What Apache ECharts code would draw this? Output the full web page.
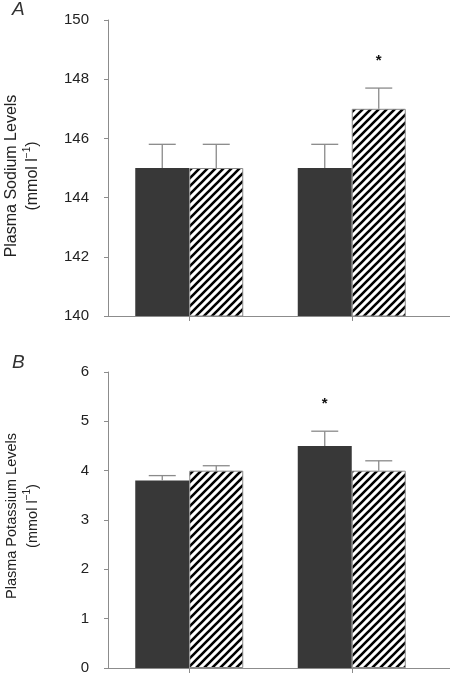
<!DOCTYPE html>
<html>
<head>
<meta charset="utf-8">
<script src="https://cdn.jsdelivr.net/npm/echarts@6/dist/echarts.min.js"></script>
<style>html,body{margin:0;padding:0;background:#fff;}#c{width:450px;height:676px;}</style>
</head>
<body>
<div id="c"></div>
<script>
// ---- data ----
const categories = ['1', '2'];
const sodiumTicks = [140, 142, 144, 146, 148, 150];
const potassiumTicks = [0, 1, 2, 3, 4, 5, 6];
const sodiumDark = [145, 145];
const sodiumDarkErr = [0.8, 0.8];
const sodiumHatch = [145, 147];
const sodiumHatchErr = [0.8, 0.7];
const sodiumDarkSig = [false, false];
const sodiumHatchSig = [false, true];
const potassiumDark = [3.8, 4.5];
const potassiumDarkErr = [0.1, 0.3];
const potassiumHatch = [4.0, 4.0];
const potassiumHatchErr = [0.1, 0.2];
const potassiumDarkSig = [false, true];
const potassiumHatchSig = [false, false];

// ---- styling ----
const FONT = 'Arial, "Liberation Sans", sans-serif';
const BAR_W = 54;
const DARK = '#383838';
const AXIS_C = '#8c8c8c';
const ERR_C = '#8a8a8a';

function hatchPattern() {
  const s = 8;
  const cv = document.createElement('canvas');
  cv.width = s; cv.height = s;
  const g = cv.getContext('2d');
  g.fillStyle = '#fff'; g.fillRect(0, 0, s, s);
  g.strokeStyle = '#000'; g.lineWidth = 2.6; g.lineCap = 'square';
  g.beginPath();
  g.moveTo(0, s); g.lineTo(s, 0);
  g.moveTo(-s / 2, s / 2); g.lineTo(s / 2, -s / 2);
  g.moveTo(s / 2, s + s / 2); g.lineTo(s + s / 2, s / 2);
  g.stroke();
  return { image: cv, repeat: 'repeat' };
}
const HATCH = hatchPattern();

function errSeries(gi, vals, errs, sigs, sign) {
  return {
    type: 'custom', xAxisIndex: gi, yAxisIndex: gi, z: 5,
    data: vals.map((v, i) => [i, v, errs[i], sigs[i] ? 1 : 0]),
    renderItem: function (params, api) {
      const ci = api.value(0), v = api.value(1), e = api.value(2), s = api.value(3);
      const b = api.coord([ci, v]);
      const t = api.coord([ci, v + e]);
      const x = b[0] + sign * BAR_W / 2;
      const children = [
        { type: 'line', shape: { x1: x, y1: b[1], x2: x, y2: t[1] }, style: { stroke: ERR_C, lineWidth: 1.3 } },
        { type: 'line', shape: { x1: x - 13.5, y1: t[1], x2: x + 13.5, y2: t[1] }, style: { stroke: ERR_C, lineWidth: 1.3 } }
      ];
      if (s) {
        children.push({ type: 'text', x: x, y: t[1] - 27, style: { text: '*', fill: '#111', font: 'bold 15px ' + FONT, align: 'center', verticalAlign: 'middle' } });
      }
      return { type: 'group', children: children };
    }
  };
}

function yAxisCfg(gi, ticks, nameMain, nameSize, pad) {
  return {
    type: 'value', gridIndex: gi,
    min: ticks[0], max: ticks[ticks.length - 1], interval: ticks[1] - ticks[0],
    axisLine: { show: true, lineStyle: { color: AXIS_C, width: 1 } },
    axisTick: { show: true, length: 4, lineStyle: { color: AXIS_C } },
    splitLine: { show: false },
    axisLabel: { color: '#222', fontSize: 15, fontFamily: FONT, margin: 19 },
    name: nameMain + '\n(mmol l{s|\u22121})',
    nameLocation: 'middle', nameRotate: 90, nameGap: 65,
    nameTextStyle: {
      color: '#222', fontSize: nameSize, fontFamily: FONT, lineHeight: 21, align: 'center',
      padding: pad,
      rich: { s: { fontSize: 10, fontFamily: FONT, color: '#222', verticalAlign: 'top', lineHeight: 21 } }
    }
  };
}

function xAxisCfg(gi) {
  return {
    type: 'category', gridIndex: gi, data: categories,
    axisLine: { show: true, lineStyle: { color: AXIS_C, width: 1 } },
    axisTick: { show: true, alignWithLabel: true, length: 5, lineStyle: { color: AXIS_C } },
    axisLabel: { show: false }
  };
}

function barSeries(gi, vals, color, border) {
  return {
    type: 'bar', xAxisIndex: gi, yAxisIndex: gi, data: vals,
    barWidth: BAR_W, barGap: '0%',
    itemStyle: { color: color, borderColor: border ? '#888' : color, borderWidth: border ? 1 : 0 },
    silent: true
  };
}

const chart = echarts.init(document.getElementById('c'), null, { renderer: 'canvas' });
chart.setOption({
  animation: false,
  backgroundColor: '#fff',
  grid: [
    { left: 108, top: 20, width: 325, height: 296, outerBoundsMode: 'none', containLabel: false },
    { left: 108, top: 372, width: 325, height: 296, outerBoundsMode: 'none', containLabel: false }
  ],
  xAxis: [xAxisCfg(0), xAxisCfg(1)],
  yAxis: [
    yAxisCfg(0, sodiumTicks, 'Plasma Sodium Levels', 16, [0, 16, 0, 0]),
    yAxisCfg(1, potassiumTicks, 'Plasma Potassium Levels', 14.5, [0, 0, 0, 8])
  ],
  series: [
    barSeries(0, sodiumDark, DARK, false),
    barSeries(0, sodiumHatch, HATCH, true),
    errSeries(0, sodiumDark, sodiumDarkErr, sodiumDarkSig, -1),
    errSeries(0, sodiumHatch, sodiumHatchErr, sodiumHatchSig, 1),
    barSeries(1, potassiumDark, DARK, false),
    barSeries(1, potassiumHatch, HATCH, true),
    errSeries(1, potassiumDark, potassiumDarkErr, potassiumDarkSig, -1),
    errSeries(1, potassiumHatch, potassiumHatchErr, potassiumHatchSig, 1)
  ],
  graphic: [
    { type: 'text', left: 12, top: 0, style: { text: 'A', fill: '#333', font: 'italic 19px ' + FONT } },
    { type: 'text', left: 12, top: 353, style: { text: 'B', fill: '#333', font: 'italic 19px ' + FONT } },
    { type: 'line', shape: { x1: 433, y1: 316.5, x2: 450, y2: 316.5 }, style: { stroke: AXIS_C, lineWidth: 1 } },
    { type: 'line', shape: { x1: 433, y1: 668.5, x2: 450, y2: 668.5 }, style: { stroke: AXIS_C, lineWidth: 1 } }
  ]
});
</script>
</body>
</html>
